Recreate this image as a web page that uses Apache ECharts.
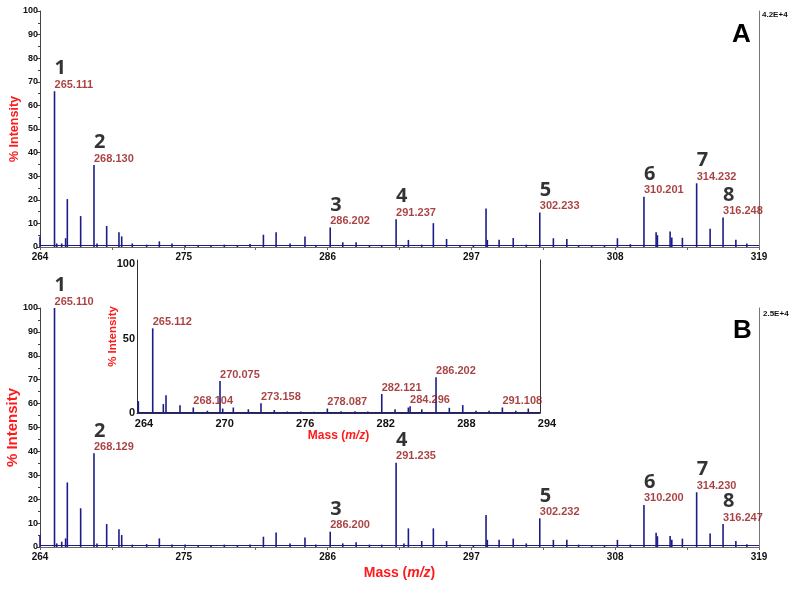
<!DOCTYPE html>
<html>
<head>
<meta charset="utf-8">
<script src="https://cdn.jsdelivr.net/npm/echarts@6.0.0/dist/echarts.min.js"></script>
<style>
html,body{margin:0;padding:0;background:#fff;}
#chart{width:800px;height:589px;}
</style>
</head>
<body>
<div id="chart"></div>
<script>
// ---- Data ----
const peakMass = [264.0, 265.11, 265.28, 265.66, 265.96, 266.09, 267.11, 268.13, 268.36, 269.1, 270.04, 270.25, 271.06, 272.16, 273.13, 274.1, 275.1, 276.1, 277.08, 278.1, 279.1, 280.07, 281.09, 282.06, 283.13, 284.27, 285.1, 286.2, 287.16, 288.18, 289.2, 290.14, 291.24, 291.84, 292.18, 293.2, 294.09, 295.1, 296.13, 297.15, 298.12, 298.22, 299.12, 300.2, 301.2, 302.23, 303.27, 304.3, 305.2, 306.2, 307.18, 308.17, 309.16, 310.2, 311.13, 311.23, 312.2, 312.33, 313.14, 314.23, 315.26, 316.25, 317.23, 318.07];
const intensityA = [4.5, 66, 1.5, 1.5, 3.7, 20.3, 13.1, 34.7, 1.5, 8.9, 6.3, 4.5, 1.5, 1, 2.4, 1.5, 0.8, 0.6, 0.5, 1, 0.7, 1.3, 5.2, 6.3, 1.5, 4.5, 0.8, 8.3, 2, 2, 0.8, 0.8, 11.8, 0.5, 3, 1, 10.1, 3.4, 0.8, 0.5, 16.3, 3, 3.1, 3.8, 1, 14.6, 3.7, 3.4, 0.8, 0.5, 0.5, 3.7, 1.2, 21.3, 6.2, 5, 6.6, 4, 3.9, 27, 7.7, 12.5, 3.1, 1.5];
const intensityB = [4.9, 100, 1.5, 2.2, 3.6, 27, 16.2, 39.2, 1.5, 9.6, 7.4, 5, 1, 1.2, 3.6, 1, 1, 0.8, 0.5, 1, 0.8, 1, 4.3, 6.1, 1.5, 4, 1, 6.4, 1.5, 2, 1, 1, 35.3, 1.5, 7.8, 2.5, 7.8, 2.5, 1, 0.5, 13.4, 3, 3, 3.5, 1.5, 12, 3, 3, 1, 0.8, 0.8, 3, 1, 17.6, 6, 4.5, 4.6, 3, 3.5, 22.9, 5.7, 9.6, 2.5, 1.2];

const annotNumbers = ['1', '2', '3', '4', '5', '6', '7', '8'];
const annotMass = [265.11, 268.13, 286.2, 291.24, 302.23, 310.2, 314.23, 316.25];
const annotTextA = ['265.111', '268.130', '286.202', '291.237', '302.233', '310.201', '314.232', '316.248'];
const annotTextB = ['265.110', '268.129', '286.200', '291.235', '302.232', '310.200', '314.230', '316.247'];

const insetMass = [264.1, 265.17, 265.96, 266.16, 267.2, 268.19, 269.24, 270.18, 270.38, 271.17, 272.29, 273.23, 274.22, 275.19, 276.19, 277.2, 278.17, 279.19, 280.23, 281.18, 282.22, 283.21, 284.2, 284.33, 285.2, 286.26, 287.25, 288.25, 289.24, 290.21, 291.2, 292.2, 293.13];
const insetIntensity = [8, 57, 6, 12, 5.3, 3.7, 1.5, 21.5, 3, 3.7, 2.5, 6.6, 2, 1, 1, 0.8, 3, 1.2, 1.2, 1, 12.8, 2.5, 3.7, 4.5, 2.5, 24, 3.5, 5.3, 1.5, 1.5, 3.7, 1.5, 3];
const insetAnnotMass = [265.17, 268.19, 270.18, 273.23, 278.17, 282.22, 284.33, 286.26, 291.2];
const insetAnnotText = ['265.112', '268.104', '270.075', '273.158', '278.087', '282.121', '284.296', '286.202', '291.108'];

const baselineLevel = 0.6;
const scaleTextA = '4.2E+4';
const scaleTextB = '2.5E+4';

// ---- Helpers ----
function nearestValue(masses, values, m) {
  let best = 0, bd = Infinity;
  masses.forEach((x, i) => { const d = Math.abs(x - m); if (d < bd) { bd = d; best = i; } });
  return values[best];
}
function pairs(masses, values) { return masses.map((m, i) => [m, values[i]]); }

const FONT = "'Liberation Sans', Arial, sans-serif";
const SPEC = '#1c1c88';
const DARKRED = '#921313';
const RED = '#ff1a1a';

function specSeries(xi, data) {
  return {
    type: 'bar', xAxisIndex: xi, yAxisIndex: xi * 2, data: data,
    barWidth: 1.6, itemStyle: { color: SPEC }, silent: true, animation: false,
    markLine: {
      silent: true, symbol: 'none', label: { show: false }, animation: false,
      lineStyle: { color: SPEC, width: 1, type: 'solid' },
      data: [{ yAxis: baselineLevel }]
    }
  };
}
function annotSeries(xi, data, withNum) {
  return {
    type: 'scatter', xAxisIndex: xi, yAxisIndex: xi * 2, data: data,
    symbolSize: 0, silent: true, animation: false, clip: false, z: 5,
    label: {
      show: true, position: 'top', distance: 0, align: 'left', verticalAlign: 'bottom',
      formatter: p => withNum ? '{n|' + p.value[2] + '}\n{m|' + p.value[3] + '}' : '{m|' + p.value[3] + '}',
      rich: {
        n: { fontFamily: "'Noto Sans', 'Open Sans', sans-serif", fontWeight: 'bold', fontSize: 20, color: '#000', lineHeight: 19 },
        m: { fontFamily: FONT, fontWeight: 'bold', fontSize: 11, color: DARKRED, lineHeight: 13 }
      }
    }
  };
}
function mainX(gi, showName) {
  return {
    type: 'value', gridIndex: gi, min: 264, max: 319, interval: 11,
    axisLine: { show: true, lineStyle: { color: '#666', width: 1 } },
    axisTick: { show: true, length: 3, lineStyle: { color: '#666' } },
    minorTick: { show: true, splitNumber: 2, length: 3, lineStyle: { color: '#666' } },
    splitLine: { show: false },
    axisLabel: { color: '#111', fontFamily: FONT, fontWeight: 'bold', fontSize: 10, margin: 5 },
    name: showName ? 'Mass ({i|m/z})' : '', nameLocation: 'middle', nameGap: 19, nameMoveOverlap: false,
    nameTextStyle: {
      color: RED, fontFamily: FONT, fontWeight: 'bold', fontSize: 14,
      rich: { i: { color: RED, fontFamily: FONT, fontWeight: 'bold', fontStyle: 'italic', fontSize: 14 } }
    }
  };
}
function mainYLeft(gi, nameSize, gap) {
  return {
    type: 'value', gridIndex: gi, min: 0, max: 100, interval: 10, position: 'left',
    axisLine: { show: true, lineStyle: { color: '#444', width: 1 } },
    axisTick: { show: true, length: 3, lineStyle: { color: '#444' } },
    minorTick: { show: true, splitNumber: 2, length: 2, lineStyle: { color: '#444' } },
    splitLine: { show: false },
    axisLabel: { color: '#111', fontFamily: FONT, fontWeight: 'bold', fontSize: 9, margin: 2 },
    name: '% Intensity', nameLocation: 'middle', nameRotate: 90, nameGap: gap, nameMoveOverlap: false,
    nameTextStyle: { color: RED, fontFamily: FONT, fontWeight: 'bold', fontSize: nameSize }
  };
}
function rightLine(gi, max, color) {
  return {
    type: 'value', gridIndex: gi, min: 0, max: max, position: 'right',
    axisLine: { show: true, lineStyle: { color: color, width: 1 } },
    axisTick: { show: false }, axisLabel: { show: false }, splitLine: { show: false }
  };
}

const annotA = annotMass.map((m, i) => [m, nearestValue(peakMass, intensityA, m), annotNumbers[i], annotTextA[i]]);
const annotB = annotMass.map((m, i) => [m, nearestValue(peakMass, intensityB, m), annotNumbers[i], annotTextB[i]]);
const annotInset = insetAnnotMass.map((m, i) => [m, nearestValue(insetMass, insetIntensity, m), '', insetAnnotText[i]]);

const gridBase = { containLabel: false, outerBoundsMode: 'none' };
const option = {
  backgroundColor: '#fff',
  animation: false,
  grid: [
    Object.assign({ left: 40, right: 41, top: 11, height: 236 }, gridBase),
    Object.assign({ left: 40, right: 41, top: 308, height: 239 }, gridBase),
    Object.assign({ left: 137, width: 403, top: 260, height: 153 }, gridBase)
  ],
  xAxis: [
    mainX(0, false),
    mainX(1, true),
    {
      type: 'value', gridIndex: 2, min: 264, max: 294, interval: 6,
      axisLine: { show: true, lineStyle: { color: '#333', width: 1 } },
      axisTick: { show: false }, splitLine: { show: false },
      axisLabel: { color: '#111', fontFamily: FONT, fontWeight: 'bold', fontSize: 11, margin: 5, padding: [0, 0, 0, 14] },
      name: 'Mass ({i|m/z})', nameLocation: 'middle', nameGap: 17, nameMoveOverlap: false,
      nameTextStyle: {
        color: RED, fontFamily: FONT, fontWeight: 'bold', fontSize: 12,
        rich: { i: { color: RED, fontFamily: FONT, fontWeight: 'bold', fontStyle: 'italic', fontSize: 12 } }
      }
    }
  ],
  yAxis: [
    mainYLeft(0, 12.5, 19),
    rightLine(0, 100, '#777'),
    mainYLeft(1, 15, 20),
    rightLine(1, 100, '#777'),
    {
      type: 'value', gridIndex: 2, min: 0, max: 103, interval: 50, position: 'left',
      axisLine: { show: true, lineStyle: { color: '#333', width: 1 } },
      axisTick: { show: false }, splitLine: { show: false },
      axisLabel: { color: '#111', fontFamily: FONT, fontWeight: 'bold', fontSize: 11, margin: 2, showMaxLabel: false },
      name: '% Intensity', nameLocation: 'middle', nameRotate: 90, nameGap: 18, nameMoveOverlap: false,
      nameTextStyle: { color: RED, fontFamily: FONT, fontWeight: 'bold', fontSize: 11.5 }
    },
    rightLine(2, 103, '#333')
  ],
  series: [
    specSeries(0, pairs(peakMass, intensityA)),
    specSeries(1, pairs(peakMass, intensityB)),
    specSeries(2, pairs(insetMass, insetIntensity)),
    annotSeries(0, annotA, true),
    annotSeries(1, annotB, true),
    annotSeries(2, annotInset, false)
  ],
  graphic: [
    { type: 'text', left: 732, top: 22, style: { text: 'A', font: "bold 26px 'Liberation Sans', Arial", fill: '#000' } },
    { type: 'text', left: 733, top: 318, style: { text: 'B', font: "bold 26px 'Liberation Sans', Arial", fill: '#000' } },
    { type: 'text', left: 762, top: 11, style: { text: scaleTextA, font: "bold 8px 'Liberation Sans', Arial", fill: '#111' } },
    { type: 'text', left: 763, top: 310, style: { text: scaleTextB, font: "bold 8px 'Liberation Sans', Arial", fill: '#111' } }
  ]
};

const chart = echarts.init(document.getElementById('chart'));
chart.setOption(option);
</script>
</body>
</html>
